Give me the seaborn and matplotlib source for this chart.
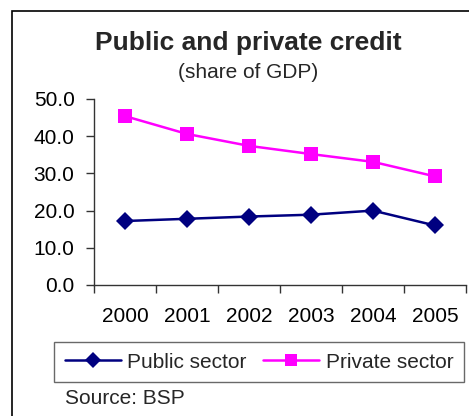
import matplotlib
matplotlib.use("Agg")
import matplotlib.pyplot as plt
import seaborn as sns
import pandas as pd
from matplotlib.patches import Rectangle
from matplotlib.lines import Line2D

years = ["2000", "2001", "2002", "2003", "2004", "2005"]
public_sector = [17.2, 17.8, 18.4, 18.9, 20.0, 16.0]
private_sector = [45.4, 40.6, 37.4, 35.2, 33.1, 29.2]
series_names = ["Public sector", "Private sector"]
y_ticks = [0, 10, 20, 30, 40, 50]

sns.set_theme(style="white")
plt.rcParams["font.family"] = ["Liberation Sans", "DejaVu Sans"]

W, H = 469, 416
fig = plt.figure(figsize=(W / 100, H / 100), dpi=100)
fig.patch.set_facecolor("white")

# outer frame (extends beyond right/bottom edges)
fig.patches.append(Rectangle((12 / W, -0.1), 1.2, 1 - 11 / H + 0.1,
                             transform=fig.transFigure, fill=False,
                             edgecolor="black", linewidth=1.2))

ax = fig.add_axes([94 / W, 1 - 285 / H, 372 / W, 186 / H])

df = pd.DataFrame({
    "pos": list(range(len(years))) * 2,
    "value": public_sector + private_sector,
    "series": [series_names[0]] * len(years) + [series_names[1]] * len(years),
})
colors = {"Public sector": "#000080", "Private sector": "#FF00FF"}
markers = {"Public sector": "D", "Private sector": "s"}
sizes = {"Public sector": 9, "Private sector": 10}

for name in series_names:
    sub = df[df["series"] == name]
    sns.lineplot(data=sub, x="pos", y="value", ax=ax, color=colors[name],
                 marker=markers[name], markersize=sizes[name],
                 markeredgewidth=0, linewidth=1.8, legend=False)

ax.set_xlim(-0.5, len(years) - 0.5)
ax.set_ylim(0, 50)
ax.set_yticks(y_ticks)
ax.set_yticklabels([f"{v:.1f}" for v in y_ticks], fontsize=15)
ax.set_xticks(range(len(years)))
ax.set_xticklabels(years, fontsize=15)
ax.set_xticks([i - 0.5 for i in range(len(years) + 1)], minor=True)
ax.tick_params(axis="x", which="major", length=0, pad=16, colors="black")
ax.tick_params(axis="x", which="minor", length=6, width=1, color="#333333",
               direction="out", bottom=True)
ax.tick_params(axis="y", length=6, width=1, color="#333333", direction="out",
               left=True, pad=8, labelcolor="black")
ax.set_xlabel("")
ax.set_ylabel("")
for s in ["top", "right"]:
    ax.spines[s].set_visible(False)
for s in ["left", "bottom"]:
    ax.spines[s].set_color("#333333")
    ax.spines[s].set_linewidth(1)
ax.set_facecolor("white")

fig.text(248 / W, 1 - 50 / H, "Public and private credit", ha="center",
         va="baseline", fontsize=19, fontweight="bold")
fig.text(248 / W, 1 - 78 / H, "(share of GDP)", ha="center",
         va="baseline", fontsize=15)

handles = [Line2D([], [], color=colors[n], marker=markers[n],
                  markersize=sizes[n] - 1, markeredgewidth=0, linewidth=1.8)
           for n in series_names]
leg = fig.legend(handles, series_names, loc="center",
                 bbox_to_anchor=((56 + 462) / 2 / W, 1 - 362 / H),
                 ncol=2, fontsize=15, frameon=True, fancybox=False,
                 edgecolor="#444444", handlelength=2.7, handletextpad=0.3,
                 columnspacing=0.8, borderpad=0.5)
leg.get_frame().set_linewidth(1)

fig.text(65 / W, 1 - 404 / H, "Source: BSP", ha="left", va="baseline",
         fontsize=15)

fig.savefig("out.png", dpi=100)
